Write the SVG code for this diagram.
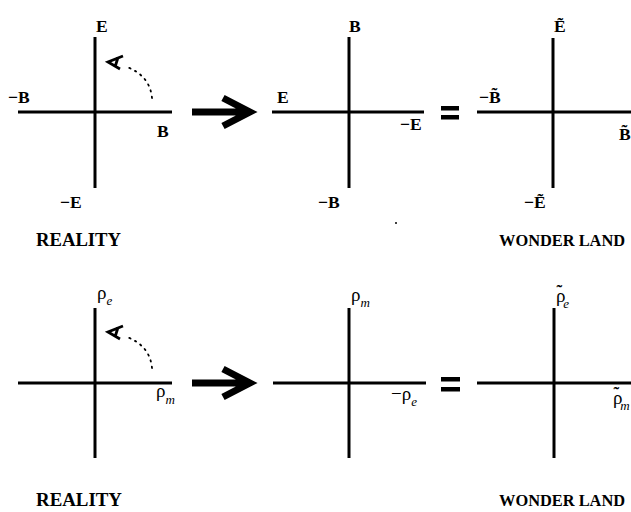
<svg xmlns="http://www.w3.org/2000/svg" width="631" height="512" viewBox="0 0 631 512">
<style>
.ax{stroke:#000;stroke-width:3;fill:none}
.big{stroke:#000;stroke-width:7;fill:none;stroke-linejoin:miter;stroke-miterlimit:10}
.dot{stroke:#000;stroke-width:1.8;fill:none;stroke-dasharray:1.4 5;stroke-linecap:round}
.ah{stroke:#000;stroke-width:2.8;fill:none;stroke-linejoin:miter}
.lb{font-family:"Liberation Serif","Times New Roman",serif;font-weight:bold;font-size:17.5px;fill:#000}
.cap{font-family:"Liberation Serif","Times New Roman",serif;font-weight:bold;font-size:18px;fill:#000}
.wl{font-family:"Liberation Serif","Times New Roman",serif;font-weight:bold;font-size:16.4px;fill:#000}
.rho{font-family:"Liberation Serif","Times New Roman",serif;font-size:19px;fill:#000}
.sub{font-family:"Liberation Serif","Times New Roman",serif;font-style:italic;font-size:13px;fill:#000}
.til{font-weight:bold;font-size:17px}
.eq{fill:#000}
</style>
<rect width="631" height="512" fill="#fff"/>

<g id="connectors">
  <path class="big" d="M192 112 H246 M223 98 L250 112 L223 126"/>
  <path class="dot" d="M152 98 Q150 76 127 67"/>
  <path class="ah" d="M123 56 L108 62 L120 69 M118 57.5 L115 67"/>
  <path class="big" d="M192 383 H246 M223 369 L250 383 L223 397"/>
  <path class="dot" d="M152 368 Q150 346 127 337"/>
  <path class="ah" d="M123 326 L108 332 L120 339 M118 327.5 L115 337"/>
</g>

<g id="top-reality">
  <line class="ax" x1="95" y1="37" x2="95" y2="188"/>
  <line class="ax" x1="18" y1="112" x2="172" y2="112"/>
  <text class="lb" x="96" y="32">E</text>
  <text class="lb" x="8" y="103">−B</text>
  <text class="lb" x="157" y="137">B</text>
  <text class="lb" x="60" y="208">−E</text>
</g>

<g id="top-mapped">
  <line class="ax" x1="349" y1="37" x2="349" y2="188"/>
  <line class="ax" x1="272" y1="112" x2="424" y2="112"/>
  <text class="lb" x="349" y="32">B</text>
  <text class="lb" x="277" y="103">E</text>
  <text class="lb" x="400" y="130">−E</text>
  <text class="lb" x="318" y="208">−B</text>
</g>

<g id="top-equals">
  <rect class="eq" x="441" y="106" width="18" height="4.5"/>
  <rect class="eq" x="441" y="115" width="18" height="4.5"/>
</g>

<g id="top-wonderland">
  <line class="ax" x1="553" y1="38" x2="553" y2="188"/>
  <line class="ax" x1="477" y1="112" x2="631" y2="112"/>
  <text class="lb" x="554" y="32">Ẽ</text>
  <text class="lb" x="479" y="103">−B̃</text>
  <text class="lb" x="619" y="140">B̃</text>
  <text class="lb" x="524" y="208">−Ẽ</text>
</g>

<g id="top-captions">
  <text class="cap" x="36" y="246" textLength="85" lengthAdjust="spacingAndGlyphs">REALITY</text>
  <text class="wl" x="499" y="246">WONDER LAND</text>
  <circle cx="396" cy="223" r="1" fill="#000"/>
</g>

<g id="bottom-reality">
  <line class="ax" x1="95" y1="308" x2="95" y2="458"/>
  <line class="ax" x1="18" y1="383" x2="172" y2="383"/>
  <text class="rho" x="97" y="299">ρ<tspan class="sub" dy="6">e</tspan></text>
  <text class="rho" x="156" y="397">ρ<tspan class="sub" dy="7">m</tspan></text>
</g>

<g id="bottom-mapped">
  <line class="ax" x1="349" y1="308" x2="349" y2="458"/>
  <line class="ax" x1="273" y1="383" x2="426" y2="383"/>
  <text class="rho" x="351" y="301">ρ<tspan class="sub" dy="6">m</tspan></text>
  <text class="rho" x="391" y="400">−ρ<tspan class="sub" dy="6">e</tspan></text>
</g>

<g id="bottom-equals">
  <rect class="eq" x="441" y="377" width="19" height="4.5"/>
  <rect class="eq" x="441" y="387" width="19" height="4.5"/>
</g>

<g id="bottom-wonderland">
  <line class="ax" x1="554" y1="308" x2="554" y2="458"/>
  <line class="ax" x1="477" y1="383" x2="631" y2="383"/>
  <text class="rho" x="556" y="302">ρ<tspan class="til" dx="-9" dy="-5">˜</tspan><tspan class="sub" dx="1" dy="11">e</tspan></text>
  <text class="rho" x="613" y="404">ρ<tspan class="til" dx="-9" dy="-5">˜</tspan><tspan class="sub" dx="1" dy="11">m</tspan></text>
</g>

<g id="bottom-captions">
  <text class="cap" x="36" y="506" textLength="86" lengthAdjust="spacingAndGlyphs">REALITY</text>
  <text class="wl" x="499" y="506">WONDER LAND</text>
</g>
</svg>
